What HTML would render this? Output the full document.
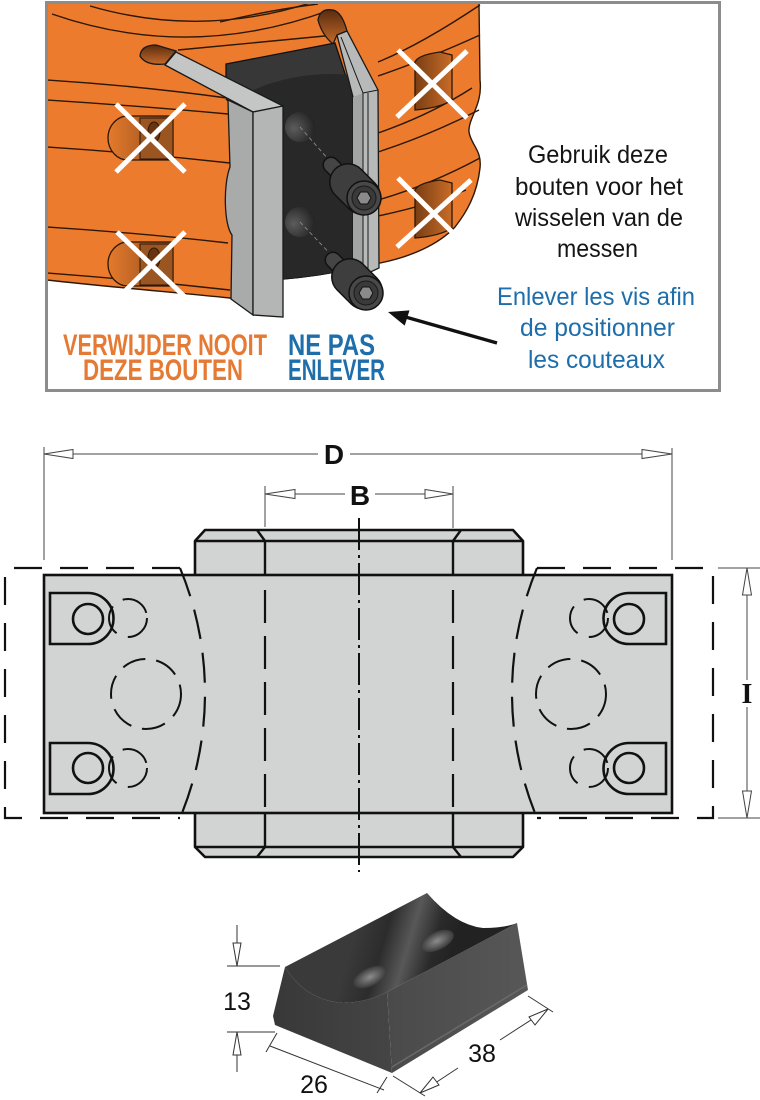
<!DOCTYPE html>
<html><head><meta charset="utf-8"><style>
html,body{margin:0;padding:0;background:#fff;}
svg{display:block;}
</style></head><body>
<svg width="760" height="1100" viewBox="0 0 760 1100" xmlns="http://www.w3.org/2000/svg">
<defs>
<clipPath id="box"><rect x="48" y="4" width="670" height="385"/></clipPath>
<linearGradient id="pk" x1="0" x2="1" y1="0" y2="0"><stop offset="0" stop-color="#e57a2c"/><stop offset="1" stop-color="#8a4a1c"/></linearGradient>
<linearGradient id="pk2" x1="0" x2="1" y1="0" y2="0"><stop offset="0" stop-color="#7a3e14"/><stop offset="1" stop-color="#c86c28"/></linearGradient>
<linearGradient id="slot" x1="0" x2="0" y1="0" y2="1"><stop offset="0" stop-color="#5a2c0e"/><stop offset="1" stop-color="#c46a2a"/></linearGradient>
<radialGradient id="hole" cx="0.3" cy="0.55" r="0.8"><stop offset="0" stop-color="#5c5c5c"/><stop offset="1" stop-color="#1c1c1c"/></radialGradient>
<radialGradient id="bh" cx="0.5" cy="0.5" r="0.6"><stop offset="0" stop-color="#8c8c8c"/><stop offset="1" stop-color="#2a2a2a"/></radialGradient>
<linearGradient id="sad" gradientUnits="userSpaceOnUse" x1="356" y1="930" x2="451" y2="958"><stop offset="0" stop-color="#3a3a3a"/><stop offset="0.3" stop-color="#2c2c2c"/><stop offset="0.55" stop-color="#585858"/><stop offset="0.8" stop-color="#2a2a2a"/><stop offset="1" stop-color="#222"/></linearGradient>
<linearGradient id="endf" x1="0" x2="1" y1="0" y2="0"><stop offset="0" stop-color="#383838"/><stop offset="1" stop-color="#454545"/></linearGradient>
<linearGradient id="rf" x1="0" x2="1" y1="0" y2="0"><stop offset="0" stop-color="#4a4a4a"/><stop offset="1" stop-color="#575757"/></linearGradient>
</defs>

<!-- ========== TOP ILLUSTRATION ========== -->
<g clip-path="url(#box)">
  <path d="M47,3 H479 L480,80 C483,105 468,118 469,132 C471,145 482,150 480,168 C477,195 466,213 455,227 C438,245 410,257 380,263 L355,268 Q320,276 283,279 L253,300 L230,298 C170,292 100,286 47,280 Z" fill="#ec7b2d" stroke="#2a1808" stroke-width="1.4"/>
  <g fill="none" stroke="#2a1808" stroke-width="1.4">
    <path d="M47,80 Q140,86 227,98"/>
    <path d="M47,100 Q140,106 228,114"/>
    <path d="M47,147 Q140,153 230,163"/>
    <path d="M47,227 Q140,233 228,243"/>
    <path d="M47,273 Q140,280 230,290"/>
    <path d="M52,14 Q190,62 330,10"/>
    <path d="M90,6 Q200,38 310,3"/>
    <path d="M178,50 Q240,44 335,35"/>
    <path d="M220,22 Q270,10 318,4"/>
    <path d="M378,62 Q420,45 480,5"/>
    <path d="M378,76 Q425,60 480,35"/>
    <path d="M378,133 Q430,115 472,88"/>
    <path d="M378,152 Q430,135 479,110"/>
    <path d="M378,200 Q430,185 480,158"/>
    <path d="M378,216 Q430,205 466,190"/>
  </g>
  <path d="M173,116 H128 A20,22 0 0 0 128,160 H173 Z" fill="url(#pk)" stroke="#2a1808" stroke-width="1.3"/>
  <rect x="140" y="118" width="33" height="41" fill="#9a5520" stroke="#2a1808" stroke-width="1"/>
  <ellipse cx="154" cy="132" rx="6" ry="10" fill="#6a3410" stroke="#2a1808" stroke-width="1"/>
  <path d="M173,242 H128 A20,22 0 0 0 128,286 H173 Z" fill="url(#pk)" stroke="#2a1808" stroke-width="1.3"/>
  <rect x="140" y="244" width="33" height="41" fill="#9a5520" stroke="#2a1808" stroke-width="1"/>
  <ellipse cx="154" cy="258" rx="6" ry="10" fill="#6a3410" stroke="#2a1808" stroke-width="1"/>
  <path d="M415,110 V62 Q418,55 440,52 L452,55 V100 Q440,108 415,110 Z" fill="url(#pk2)" stroke="#2a1808" stroke-width="1.3"/>
  <path d="M415,238 V190 Q418,183 440,180 L452,183 V228 Q440,236 415,238 Z" fill="url(#pk2)" stroke="#2a1808" stroke-width="1.3"/>
  <path d="M140,56 Q141,45 156,45 L176,51 L165,64 Q146,66 140,56 Z" fill="url(#slot)" stroke="#1a1a1a" stroke-width="1.3"/>
  <path d="M318,20 Q320,8 333,10 Q342,12 347,31 L337,35 L333,44 Q322,35 318,20 Z" fill="url(#slot)" stroke="#1a1a1a" stroke-width="1.3"/>
  <!-- clamp -->
  <path d="M226,64 L335,43 L352,95 L355,268 Q320,276 283,279 L253,279 L253,110 L226,97 Z" fill="#373737" stroke="#111" stroke-width="1.3"/>
  <path d="M253,90 Q300,70 352,75 L355,268 Q320,276 283,279 L253,279 Z" fill="#282828"/>
  <circle cx="300" cy="127" r="15" fill="url(#hole)"/>
  <circle cx="300" cy="222" r="15" fill="url(#hole)"/>
  <line x1="300" y1="127" x2="336" y2="168" stroke="#8a8a8a" stroke-width="0.9" stroke-dasharray="4 3"/>
  <line x1="300" y1="222" x2="338" y2="262" stroke="#8a8a8a" stroke-width="0.9" stroke-dasharray="4 3"/>
  <!-- left knife -->
  <path d="M165,65 L176,52 L283,106 L253,112 Z" fill="#c4c6c6" stroke="#1a1a1a" stroke-width="1.3"/>
  <path d="M226,99 L253,112 L253,315 L231,299 L232,235 C224,225 223,185 230,167 L228,101 Z" fill="#a9abab" stroke="#1a1a1a" stroke-width="1.3"/>
  <path d="M253,112 L283,106 L283,317 L253,315 Z" fill="#b4b6b6" stroke="#1a1a1a" stroke-width="1.3"/>
  <!-- right knife -->
  <path d="M337,35 L347,31 L378,90 L379,268 L362,276 L353,268 L353,97 Z" fill="#b8baba" stroke="#1a1a1a" stroke-width="1.3"/>
  <path d="M353,97 L363,93 L363,272 L353,268 Z" fill="#a3a5a5"/>
  <path d="M341,37 L363,93 L378,90 M363,93 V272 M368,93 V270" fill="none" stroke="#1a1a1a" stroke-width="1"/>
  <!-- bolts -->
  <g>
    <line x1="331" y1="165" x2="348" y2="182" stroke="#111" stroke-width="17" stroke-linecap="round"/>
    <line x1="331" y1="165" x2="348" y2="182" stroke="#454545" stroke-width="14" stroke-linecap="round"/>
    <line x1="348" y1="182" x2="362" y2="196" stroke="#111" stroke-width="38" stroke-linecap="round"/>
    <line x1="348" y1="182" x2="362" y2="196" stroke="#3e3e3e" stroke-width="35" stroke-linecap="round"/>
    <circle cx="364" cy="198" r="17" fill="#484848" stroke="#111" stroke-width="1.5"/>
    <circle cx="364" cy="198" r="12" fill="#3a3a3a" stroke="#1a1a1a" stroke-width="1"/>
    <polygon points="371,198 367.5,204 360.5,204 357,198 360.5,192 367.5,192" fill="#8a8a8a" stroke="#111" stroke-width="1"/>
  </g>
  <g transform="translate(2,95)">
    <line x1="331" y1="165" x2="348" y2="182" stroke="#111" stroke-width="17" stroke-linecap="round"/>
    <line x1="331" y1="165" x2="348" y2="182" stroke="#454545" stroke-width="14" stroke-linecap="round"/>
    <line x1="348" y1="182" x2="362" y2="196" stroke="#111" stroke-width="38" stroke-linecap="round"/>
    <line x1="348" y1="182" x2="362" y2="196" stroke="#3e3e3e" stroke-width="35" stroke-linecap="round"/>
    <circle cx="364" cy="198" r="17" fill="#484848" stroke="#111" stroke-width="1.5"/>
    <circle cx="364" cy="198" r="12" fill="#3a3a3a" stroke="#1a1a1a" stroke-width="1"/>
    <polygon points="371,198 367.5,204 360.5,204 357,198 360.5,192 367.5,192" fill="#8a8a8a" stroke="#111" stroke-width="1"/>
  </g>
  <g stroke="#fff" stroke-width="5">
    <line x1="116" y1="104" x2="185" y2="172"/><line x1="185" y1="104" x2="116" y2="172"/>
    <line x1="117" y1="232" x2="185" y2="297"/><line x1="185" y1="232" x2="119" y2="297"/>
    <line x1="398" y1="50" x2="467" y2="118"/><line x1="467" y1="51" x2="397" y2="117"/>
    <line x1="398" y1="178" x2="467" y2="247"/><line x1="471" y1="180" x2="397" y2="247"/>
  </g>
</g>
<rect x="46.5" y="2.5" width="673" height="388" fill="none" stroke="#8c8c8c" stroke-width="3"/>

<g font-family="'Liberation Sans Narrow','Liberation Sans',sans-serif" font-weight="bold" font-size="30">
  <text x="63" y="355" textLength="204" lengthAdjust="spacingAndGlyphs" fill="#e47a34">VERWIJDER NOOIT</text>
  <text x="83" y="380" textLength="160" lengthAdjust="spacingAndGlyphs" fill="#e47a34">DEZE BOUTEN</text>
  <text x="288" y="355" textLength="87" lengthAdjust="spacingAndGlyphs" fill="#1d6eaa">NE PAS</text>
  <text x="288" y="380" textLength="97" lengthAdjust="spacingAndGlyphs" fill="#1d6eaa">ENLEVER</text>
</g>
<g font-family="'Liberation Sans Narrow','Liberation Sans',sans-serif" font-size="25">
  <text x="528" y="163" textLength="140" lengthAdjust="spacingAndGlyphs" fill="#151515">Gebruik deze</text>
  <text x="515" y="195" textLength="168" lengthAdjust="spacingAndGlyphs" fill="#151515">bouten voor het</text>
  <text x="515" y="226" textLength="168" lengthAdjust="spacingAndGlyphs" fill="#151515">wisselen van de</text>
  <text x="557" y="257" textLength="81" lengthAdjust="spacingAndGlyphs" fill="#151515">messen</text>
  <text x="497" y="305" textLength="198" lengthAdjust="spacingAndGlyphs" fill="#1d6eaa">Enlever les vis afin</text>
  <text x="520" y="336" textLength="155" lengthAdjust="spacingAndGlyphs" fill="#1d6eaa">de positionner</text>
  <text x="528" y="368" textLength="137" lengthAdjust="spacingAndGlyphs" fill="#1d6eaa">les couteaux</text>
</g>
<line x1="497" y1="343" x2="402" y2="316" stroke="#111" stroke-width="3.5"/>
<polygon points="388,312 404.7,325.6 409.5,310.4" fill="#111"/>

<!-- ========== TECHNICAL DRAWING ========== -->
<g stroke="#444" stroke-width="1" fill="none">
  <line x1="44" y1="447" x2="44" y2="560"/>
  <line x1="672" y1="448" x2="672" y2="560"/>
  <line x1="44" y1="454" x2="318" y2="454"/>
  <line x1="350" y1="454" x2="672" y2="454"/>
  <line x1="265" y1="486" x2="265" y2="527"/>
  <line x1="453" y1="486" x2="453" y2="528"/>
  <line x1="265" y1="494" x2="345" y2="494"/>
  <line x1="375" y1="494" x2="453" y2="494"/>
  <line x1="718" y1="568" x2="760" y2="568"/>
  <line x1="718" y1="818" x2="760" y2="818"/>
  <line x1="747" y1="568" x2="747" y2="680"/>
  <line x1="747" y1="707" x2="747" y2="818"/>
</g>
<g stroke="#444" stroke-width="1" fill="#fff">
  <polygon points="44,454 73,449.5 73,458.5"/>
  <polygon points="672,454 642,449.5 642,458.5"/>
  <polygon points="265,494 295,489.5 295,498.5"/>
  <polygon points="453,494 425,489.5 425,498.5"/>
  <polygon points="747,568 742.5,595 751.5,595"/>
  <polygon points="747,818 742.5,791 751.5,791"/>
</g>
<g font-family="'Liberation Sans',sans-serif" font-weight="bold" font-size="28" fill="#111" text-anchor="middle">
  <text x="334" y="464">D</text>
  <text x="360" y="505">B</text>
</g>
<text x="747" y="703" font-family="'Liberation Serif',serif" font-weight="bold" font-size="28" fill="#111" text-anchor="middle">I</text>

<path d="M205,530 H513 L523,541 V847 L513,857 H205 L195,847 V541 Z" fill="#d2d3d3" stroke="#111" stroke-width="2.6" stroke-linejoin="round"/>
<g stroke="#111" stroke-width="2.4" fill="none">
  <line x1="195" y1="541" x2="523" y2="541"/>
  <line x1="195" y1="847" x2="523" y2="847"/>
  <line x1="257" y1="530" x2="265" y2="541"/>
  <line x1="461" y1="530" x2="453" y2="541"/>
  <line x1="257" y1="857" x2="265" y2="847"/>
  <line x1="461" y1="857" x2="453" y2="847"/>
  <line x1="265" y1="541" x2="265" y2="575"/>
  <line x1="453" y1="541" x2="453" y2="575"/>
  <line x1="265" y1="813" x2="265" y2="847"/>
  <line x1="453" y1="813" x2="453" y2="847"/>
</g>
<rect x="44" y="575" width="628" height="238" fill="#d2d3d3" stroke="#111" stroke-width="2.6"/>
<g stroke="#111" stroke-width="2.2" fill="none" stroke-dasharray="28 18">
  <path d="M180,568 H5 V818 H180"/>
  <path d="M537,568 H713 V818 H537"/>
</g>
<g stroke="#111" stroke-width="2.2" fill="none" stroke-dasharray="30 14">
  <path d="M180,568 A325,325 0 0 1 180,818"/>
  <path d="M537,568 A325,325 0 0 0 537,818"/>
</g>
<g stroke="#111" stroke-width="2.2" stroke-dasharray="33 13">
  <line x1="265" y1="590" x2="265" y2="813"/>
  <line x1="453" y1="590" x2="453" y2="813"/>
</g>
<line x1="359" y1="518" x2="359" y2="872" stroke="#111" stroke-width="2" stroke-dasharray="32 5 3 5"/>
<g stroke="#111" stroke-width="2.6" fill="none">
  <path d="M50,593 H88 A25.5,25.5 0 0 1 88,644 H50 Z"/>
  <circle cx="88" cy="619" r="15"/>
  <path d="M50,743 H88 A25.5,25.5 0 0 1 88,794 H50 Z"/>
  <circle cx="88" cy="768" r="15"/>
  <path d="M666,593 H629 A25.5,25.5 0 0 0 629,644 H666 Z"/>
  <circle cx="629" cy="619" r="15"/>
  <path d="M666,743 H629 A25.5,25.5 0 0 0 629,794 H666 Z"/>
  <circle cx="629" cy="768" r="15"/>
</g>
<g stroke="#111" stroke-width="2" fill="none" stroke-dasharray="30 12">
  <circle cx="128" cy="618" r="19"/>
  <circle cx="128" cy="768" r="19"/>
  <circle cx="589" cy="618" r="19"/>
  <circle cx="589" cy="768" r="19"/>
</g>
<g stroke="#111" stroke-width="2" fill="none" stroke-dasharray="24 11">
  <circle cx="146" cy="694" r="35"/>
  <circle cx="571" cy="694" r="35"/>
</g>

<!-- ========== BLOCK ========== -->
<path d="M285,967 Q305,1000 343,1003 Q368,1002 387,992 L392,1073 L275,1025 L273,1016 Z" fill="url(#endf)"/>
<path d="M387,992 L517,923 L528,990 L392,1073 Z" fill="url(#rf)"/>
<line x1="392" y1="1067" x2="527" y2="985" stroke="#6a6a6a" stroke-width="1.5"/>
<path d="M285,967 L427,893 Q455,925 483,928 Q505,928 517,923 L387,992 Q368,1002 343,1003 Q305,1000 285,967 Z" fill="url(#sad)"/>
<ellipse cx="370" cy="977" rx="18" ry="9" transform="rotate(-25 370 977)" fill="url(#bh)"/>
<ellipse cx="437" cy="941" rx="18" ry="9" transform="rotate(-25 437 941)" fill="url(#bh)"/>

<g stroke="#333" stroke-width="1" fill="none">
  <line x1="227" y1="966" x2="280" y2="966"/>
  <line x1="227" y1="1032" x2="275" y2="1032"/>
  <line x1="237" y1="925" x2="237" y2="966"/>
  <line x1="237" y1="1032" x2="237" y2="1072"/>
  <line x1="277" y1="1033" x2="266" y2="1052"/>
  <line x1="270" y1="1046" x2="384" y2="1090"/>
  <line x1="387" y1="1077" x2="377" y2="1093"/>
  <line x1="393" y1="1076" x2="425" y2="1096"/>
  <line x1="528" y1="996" x2="553" y2="1012"/>
  <line x1="420" y1="1093" x2="458" y2="1068"/>
  <line x1="500" y1="1040" x2="548" y2="1009"/>
</g>
<g stroke="#333" stroke-width="1" fill="#fff">
  <polygon points="237,966 233,943 241,943"/>
  <polygon points="237,1032 233,1055 241,1055"/>
  <polygon points="420,1093 433,1077 439,1085"/>
  <polygon points="548,1009 529,1017 535,1025"/>
</g>
<g font-family="'Liberation Sans',sans-serif" font-size="25" fill="#111" text-anchor="middle">
  <text x="237" y="1010">13</text>
  <text x="314" y="1093">26</text>
  <text x="482" y="1062">38</text>
</g>
</svg>
</body></html>
